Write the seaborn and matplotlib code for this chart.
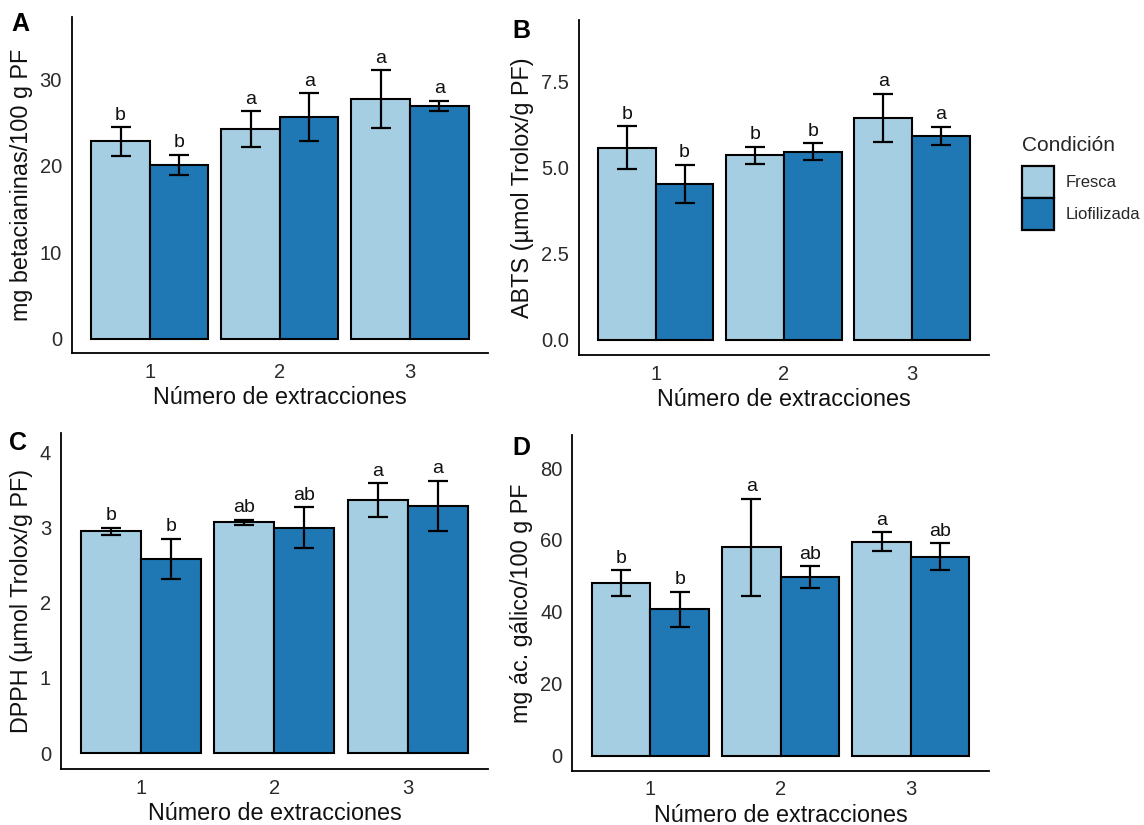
import numpy as np
import pandas as pd
import matplotlib
matplotlib.use("Agg")
import matplotlib.pyplot as plt
import matplotlib.patches as mpatches
import seaborn as sns

sns.set_style("white")
plt.rcParams['font.family'] = ['Liberation Sans', 'DejaVu Sans']

extracciones = ["1", "2", "3"]
condiciones = ["Fresca", "Liofilizada"]
colores = ["#A6CEE3", "#1F78B4"]

# Panel A: betacianinas
a_fresca = [22.8, 24.2, 27.65]
a_fresca_err = [1.65, 2.05, 3.35]
a_liof = [20.1, 25.6, 26.9]
a_liof_err = [1.15, 2.75, 0.6]
a_letras_fresca = ["b", "a", "a"]
a_letras_liof = ["b", "a", "a"]

# Panel B: ABTS
b_fresca = [5.59, 5.37, 6.45]
b_fresca_err = [0.62, 0.25, 0.71]
b_liof = [4.53, 5.47, 5.93]
b_liof_err = [0.56, 0.25, 0.27]
b_letras_fresca = ["b", "b", "a"]
b_letras_liof = ["b", "b", "a"]

# Panel C: DPPH
c_fresca = [2.95, 3.07, 3.36]
c_fresca_err = [0.05, 0.035, 0.225]
c_liof = [2.58, 3.0, 3.29]
c_liof_err = [0.27, 0.27, 0.33]
c_letras_fresca = ["b", "ab", "a"]
c_letras_liof = ["b", "ab", "a"]

# Panel D: fenoles
d_fresca = [47.96, 58.0, 59.5]
d_fresca_err = [3.55, 13.5, 2.65]
d_liof = [40.7, 49.7, 55.4]
d_liof_err = [4.85, 3.05, 3.7]
d_letras_fresca = ["b", "a", "a"]
d_letras_liof = ["b", "ab", "ab"]

paneles = [
    dict(tag="A", f=a_fresca, fe=a_fresca_err, l=a_liof, le=a_liof_err,
         lf=a_letras_fresca, ll=a_letras_liof, ylabel="mg betacianinas/100 g PF",
         ylim=(-1.65, 37.2), ticks=[0, 10, 20, 30], fmt="{:.0f}",
         rect=[0.0627, 0.5721, 0.3639, 0.4077], tagpos=(0.010, 0.986)),
    dict(tag="B", f=b_fresca, fe=b_fresca_err, l=b_liof, le=b_liof_err,
         lf=b_letras_fresca, ll=b_letras_liof, ylabel="ABTS (µmol Trolox/g PF)",
         ylim=(-0.44, 9.30), ticks=[0, 2.5, 5.0, 7.5], fmt="{:.1f}",
         rect=[0.506, 0.5697, 0.3585, 0.4061], tagpos=(0.448, 0.977)),
    dict(tag="C", f=c_fresca, fe=c_fresca_err, l=c_liof, le=c_liof_err,
         lf=c_letras_fresca, ll=c_letras_liof, ylabel="DPPH (µmol Trolox/g PF)",
         ylim=(-0.21, 4.26), ticks=[0, 1, 2, 3, 4], fmt="{:.0f}",
         rect=[0.0531, 0.0679, 0.3735, 0.4076], tagpos=(0.008, 0.477)),
    dict(tag="D", f=d_fresca, fe=d_fresca_err, l=d_liof, le=d_liof_err,
         lf=d_letras_fresca, ll=d_letras_liof, ylabel="mg ác. gálico/100 g PF",
         ylim=(-4.2, 89.2), ticks=[0, 20, 40, 60, 80], fmt="{:.0f}",
         rect=[0.5003, 0.0658, 0.3642, 0.4069], tagpos=(0.448, 0.472)),
]

fig = plt.figure(figsize=(11.44, 8.25), dpi=100)

for p in paneles:
    ax = fig.add_axes(p["rect"])
    df = pd.DataFrame({
        "Extracción": extracciones * 2,
        "Condición": [condiciones[0]] * 3 + [condiciones[1]] * 3,
        "valor": p["f"] + p["l"],
    })
    sns.barplot(data=df, x="Extracción", y="valor", hue="Condición",
                order=extracciones, hue_order=condiciones, palette=colores,
                width=0.9, errorbar=None, edgecolor="black", linewidth=1.5,
                legend=False, ax=ax, saturation=1)
    errs = [p["fe"], p["le"]]
    means = [p["f"], p["l"]]
    letras = [p["lf"], p["ll"]]
    bar_conts = list(ax.containers)
    for k, cont in enumerate(bar_conts):
        for j, bar in enumerate(cont):
            xc = bar.get_x() + bar.get_width() / 2
            ax.errorbar(xc, means[k][j], yerr=errs[k][j], color="black",
                        capsize=7, capthick=1.6, elinewidth=1.6, zorder=5)
            ax.annotate(letras[k][j], (xc, means[k][j] + errs[k][j]),
                        xytext=(0, 2.5), textcoords="offset points",
                        ha="center", va="bottom", fontsize=14, color="#111111")
    ax.set_xlim(-0.6, 2.6)
    ax.set_ylim(*p["ylim"])
    ax.set_yticks(p["ticks"])
    ax.set_yticklabels([p["fmt"].format(t) for t in p["ticks"]])
    ax.tick_params(axis="both", length=0, labelsize=14.5, colors="#2a2a2a")
    ax.tick_params(axis="y", pad=7)
    ax.tick_params(axis="x", pad=7)
    for s in ["top", "right"]:
        ax.spines[s].set_visible(False)
    for s in ["left", "bottom"]:
        ax.spines[s].set_linewidth(1.3)
        ax.spines[s].set_color("black")
    ax.set_xlabel("Número de extracciones", fontsize=16.8, labelpad=3, color="#111111")
    ax.set_ylabel(p["ylabel"], fontsize=16.8, labelpad=5, color="#111111")
    fig.text(p["tagpos"][0], p["tagpos"][1], p["tag"], fontsize=18,
             fontweight="bold", va="top", ha="left", color="black")

handles = [mpatches.Patch(facecolor=c, edgecolor="black", linewidth=1.6, label=l)
           for c, l in zip(colores, condiciones)]
leg = fig.legend(handles=handles, title="Condición", loc="upper left",
                 bbox_to_anchor=(0.893, 0.835), frameon=False, fontsize=12,
                 title_fontsize=15, handlelength=1.95, handleheight=2.55,
                 labelspacing=0.0, handletextpad=0.7, borderpad=0,
                 borderaxespad=0)
leg._legend_box.align = "left"
leg._legend_box.sep = 8

fig.savefig("out.png", dpi=100)
